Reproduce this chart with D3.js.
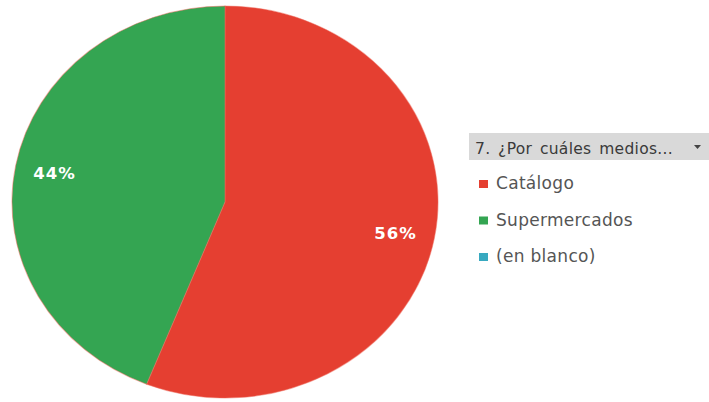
<!DOCTYPE html>
<html>
<head>
<meta charset="utf-8">
<script src="https://cdn.jsdelivr.net/npm/d3@7"></script>
<style>
  html, body { margin: 0; padding: 0; background: #fff; }
  svg { display: block; }
</style>
</head>
<body>
<svg id="chart" width="709" height="402"></svg>
<script>
// Response categories and their shares (%)
const categories = ["Catálogo", "Supermercados", "(en blanco)"];
const values = [56, 44, 0];
const colors = ["#e53f31", "#34a552", "#38a9c0"];
const legendTitle = "7. ¿Por cuáles medios...";

const svg = d3.select("#chart");

// Pie geometry (slightly elliptical)
const cx = 225, cy = 202, rx = 213, ry = 196;
const R = 100;

const pie = d3.pie().sort(null).value(d => d.value);
const data = categories.map((c, i) => ({ name: c, value: values[i], color: colors[i] }));
const arcs = pie(data);

const arc = d3.arc().innerRadius(0).outerRadius(R);

const g = svg.append("g")
  .attr("transform", `translate(${cx},${cy}) scale(${rx / R},${ry / R})`);

g.selectAll("path.slice")
  .data(arcs.filter(a => a.value > 0))
  .join("path")
  .attr("class", "slice")
  .attr("d", arc)
  .attr("fill", d => d.data.color)
  .attr("stroke", "#f06a5c")
  .attr("stroke-opacity", 0.5)
  .attr("stroke-width", 0.5);

// Percentage labels placed along each slice's mid-angle
const total = d3.sum(values);
const labelArc = d3.arc().innerRadius(R * 0.815).outerRadius(R * 0.815);
svg.append("g")
  .selectAll("text")
  .data(arcs.filter(a => a.value > 0))
  .join("text")
  .attr("x", d => cx + labelArc.centroid(d)[0] * rx / R)
  .attr("y", d => cy + labelArc.centroid(d)[1] * ry / R)
  .attr("dy", "0.42em")
  .attr("text-anchor", "middle")
  .attr("fill", "#ffffff")
  .attr("font-family", "DejaVu Sans, sans-serif")
  .attr("font-weight", "bold")
  .attr("font-size", 16.5)
  .attr("letter-spacing", 1)
  .text(d => Math.round(d.value / total * 100) + "%");

// Legend header (field selector)
const lg = svg.append("g");
lg.append("rect")
  .attr("x", 469).attr("y", 133)
  .attr("width", 240).attr("height", 27)
  .attr("fill", "#d9d9d9");
lg.append("text")
  .attr("x", 475).attr("y", 154)
  .attr("font-family", "DejaVu Sans, sans-serif")
  .attr("font-size", 15.5)
  .attr("letter-spacing", 0.3)
  .attr("word-spacing", 2.5)
  .attr("fill", "#3a3a3a")
  .text(legendTitle);
lg.append("path")
  .attr("d", "M694,145 L701,145 L697.5,149 Z")
  .attr("fill", "#444");

// Legend entries
const items = lg.selectAll("g.item")
  .data(data)
  .join("g")
  .attr("class", "item")
  .attr("transform", (d, i) => `translate(479, ${189 + i * 36.5})`);
items.append("rect")
  .attr("x", 0).attr("y", -9)
  .attr("width", 9).attr("height", 8)
  .attr("fill", d => d.color);
items.append("text")
  .attr("x", 17).attr("y", 0)
  .attr("font-family", "DejaVu Sans, sans-serif")
  .attr("font-size", 17)
  .attr("letter-spacing", 0.3)
  .attr("fill", "#555")
  .text(d => d.name);
</script>
</body>
</html>
